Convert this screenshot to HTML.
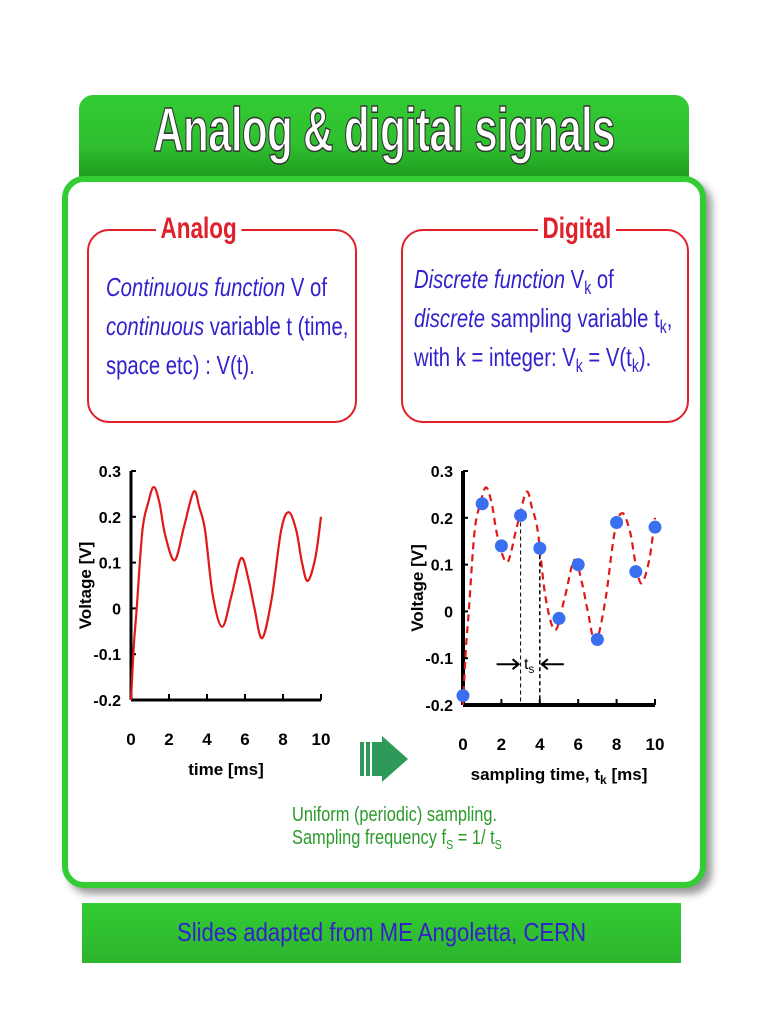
<!DOCTYPE html>
<html><head><meta charset="utf-8">
<style>
body{margin:0;width:768px;height:1024px;background:#fff;position:relative;overflow:hidden;font-family:"Liberation Sans",sans-serif}
.abs{position:absolute}
#title{left:79px;top:95px;width:610px;height:84px;border-radius:14px 14px 0 0;background:linear-gradient(#33cc33,#2fbf2f 60%,#1e9a1e);}
#title span{position:absolute;left:-100px;right:-100px;top:0px;text-align:center;white-space:nowrap;font-size:62px;font-weight:bold;color:#fff;-webkit-text-stroke:1.5px #333;transform:scaleX(0.68);letter-spacing:-1px}
#panel{left:62px;top:176px;width:632px;height:700px;border:6px solid #33cc33;border-radius:22px;background:#fff;box-shadow:6px 6px 8px #999}
.box{border:2px solid #e0202a;border-radius:22px;height:190px;top:229px}
.hdr{background:#fff;color:#e0202a;font-weight:bold;font-size:30px;padding:0 6px;top:212px;transform:scaleX(0.75);transform-origin:left}
.txt{color:#3322cc;font-size:26px;line-height:39px;transform:scaleX(0.78);transform-origin:left;white-space:nowrap}
.txt sub{font-size:18px;line-height:0}
#footer{left:82px;top:903px;width:599px;height:60px;background:linear-gradient(#33cc33,#2db52d);}
#footer span{position:absolute;left:0;right:0;top:14px;text-align:center;color:#3322cc;font-size:26px;transform:scaleX(0.85)}
.note{color:#2a9a2a;font-size:20px;transform:scaleX(0.82);transform-origin:left;white-space:nowrap}
</style></head><body>
<div id="title" class="abs"><span>Analog &amp; digital signals</span></div>
<div id="panel" class="abs"></div>
<div class="abs box" style="left:87px;width:266px"></div>
<div class="abs hdr" style="left:156px">Analog</div>
<div class="abs txt" style="left:106px;top:268px"><i>Continuous function</i> V of<br><i>continuous</i> variable t (time,<br>space etc) : V(t).</div>
<div class="abs box" style="left:401px;width:284px"></div>
<div class="abs hdr" style="left:538px">Digital</div>
<div class="abs txt" style="left:414px;top:260px"><i>Discrete function</i> V<sub>k</sub> of<br><i>discrete</i> sampling variable t<sub>k</sub>,<br>with k = integer: V<sub>k</sub> = V(t<sub>k</sub>).</div>

<svg class="abs" style="left:0;top:0" width="768" height="1024">
<g id="left"></g><g id="right"></g>
<g>
<rect x="360" y="742" width="4" height="34" fill="#2e9a5a"/><rect x="366" y="742" width="4" height="34" fill="#2e9a5a"/><rect x="372" y="742" width="10" height="34" fill="#2e9a5a"/>
<polygon points="382,736 408,759 382,782" fill="#2e9a5a"/></g>
</svg>
<div class="abs note" style="left:292px;top:804px">Uniform (periodic) sampling.<br>Sampling frequency f<sub style="font-size:13px">S</sub> = 1/ t<sub style="font-size:13px">S</sub></div>
<div id="footer" class="abs"><span>Slides adapted from ME Angoletta, CERN</span></div>
<script>
const curveT=[0,0.15,0.3,0.6,0.9,1.2,1.5,1.8,2.3,2.8,3.3,3.6,3.9,4.3,4.8,5.3,5.8,6.2,6.5,6.9,7.4,7.9,8.3,8.7,9.0,9.3,9.7,10];
const curveV=[-0.2,-0.08,0,0.17,0.23,0.265,0.23,0.16,0.105,0.18,0.255,0.22,0.17,0.03,-0.04,0.03,0.11,0.06,0.0,-0.065,0.02,0.17,0.21,0.17,0.1,0.06,0.11,0.2];
const sampleT=[0,1,2,3,4,5,6,7,8,9,10];
const sampleV=[-0.18,0.23,0.14,0.205,0.135,-0.015,0.1,-0.06,0.19,0.085,0.18];
const xTicks=[0,2,4,6,8,10];
const yTicks=[0.3,0.2,0.1,0,-0.1,-0.2];
const yLabels=["0.3","0.2","0.1","0","-0.1","-0.2"];
const NS="http://www.w3.org/2000/svg";
function mk(p,tag,a){const e=document.createElementNS(NS,tag);for(const k in a)e.setAttribute(k,a[k]);p.appendChild(e);return e;}
function smooth(pts){let d="M"+pts[0][0]+","+pts[0][1];for(let i=0;i<pts.length-1;i++){const p0=pts[i-1]||pts[i],p1=pts[i],p2=pts[i+1],p3=pts[i+2]||p2;d+=" C"+(p1[0]+(p2[0]-p0[0])/6)+","+(p1[1]+(p2[1]-p0[1])/6)+" "+(p2[0]-(p3[0]-p1[0])/6)+","+(p2[1]-(p3[1]-p1[1])/6)+" "+p2[0]+","+p2[1];}return d;}
function chart(g,x0,x1,y0,y1,digital){
 const sx=t=>x0+(x1-x0)*t/10, sy=v=>y1+(y0-y1)*(v+0.2)/0.5;
 const ax=mk(g,"path",{d:`M${x0},${y1} V${sy(0.3)} M${x0},${y1} H${x1}`,stroke:"#000","stroke-width":digital?4:3,fill:"none"});
 
 xTicks.forEach(t=>{mk(g,"line",{x1:sx(t),x2:sx(t),y1:y1,y2:y1-6,stroke:"#000","stroke-width":2});
  const tx=mk(g,"text",{x:sx(t),y:y1+45,"text-anchor":"middle","font-size":17,"font-weight":"bold","font-family":"Liberation Sans"});tx.textContent=t;
  });
 yTicks.forEach((v,i)=>{mk(g,"line",{x1:x0,x2:x0+5,y1:sy(v),y2:sy(v),stroke:"#000","stroke-width":2});
  const tx=mk(g,"text",{x:x0-10,y:sy(v)+6,"text-anchor":"end","font-size":16,"font-weight":"bold","font-family":"Liberation Sans"});tx.textContent=yLabels[i];
  });
 const yl=mk(g,"text",{transform:`translate(${x0-40},${(y0+y1)/2}) rotate(-90)`,"text-anchor":"middle","font-size":17,"font-weight":"bold","font-family":"Liberation Sans"});yl.textContent="Voltage [V]";
 
 const xl=mk(g,"text",{x:(x0+x1)/2,y:y1+75,"text-anchor":"middle","font-size":17,"font-weight":"bold","font-family":"Liberation Sans"});
 xl.innerHTML=digital?'sampling time, t<tspan font-size="12" dy="4">k</tspan><tspan dy="-4">  [ms]</tspan>':'time [ms]';
 
 const pts=curveT.map((t,i)=>[sx(t),sy(curveV[i])]);
 const ln=mk(g,"path",{d:smooth(pts),stroke:"#e01818","stroke-width":2.2,fill:"none","stroke-dasharray":digital?"7,5":"none"});
 
 if(digital){
  mk(g,"line",{x1:sx(3),x2:sx(3),y1:sy(sampleV[3]),y2:y1,stroke:"#000","stroke-dasharray":"4,3"});
  mk(g,"line",{x1:sx(4),x2:sx(4),y1:sy(sampleV[4]),y2:y1,stroke:"#000","stroke-dasharray":"4,3","stroke-width":1.5});
  const ay=sy(-0.1)+6;
  mk(g,"path",{d:`M${sx(3)-24},${ay} H${sx(3)-2} M${sx(3)-8},${ay-5} L${sx(3)-2},${ay} L${sx(3)-8},${ay+5} M${sx(4)+24},${ay} H${sx(4)+2} M${sx(4)+8},${ay-5} L${sx(4)+2},${ay} L${sx(4)+8},${ay+5}`,stroke:"#000","stroke-width":2,fill:"none"});
  const ts=mk(g,"text",{x:(sx(3)+sx(4))/2-1,y:ay+5,"text-anchor":"middle","font-size":16,"font-family":"Liberation Sans"});ts.innerHTML='t<tspan font-size="12" dy="4">s</tspan>';
  
  sampleT.forEach((t,i)=>{const c=mk(g,"circle",{cx:sx(t),cy:sy(sampleV[i]),r:6.5,fill:"#3a6ff0"});
   });
 }
}
chart(document.getElementById("left"),131,321,471,700,false);
chart(document.getElementById("right"),463,655,471,705,true);
</script>
</body></html>
